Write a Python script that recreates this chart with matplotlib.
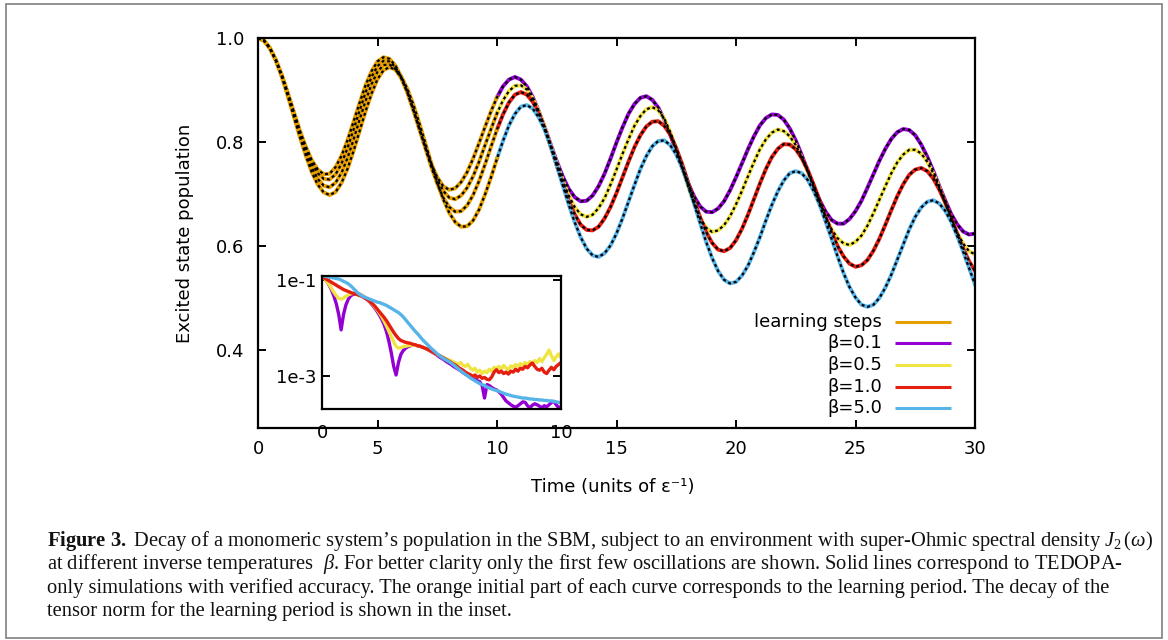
import matplotlib
matplotlib.use('Agg')
import matplotlib.pyplot as plt
import numpy as np
from matplotlib.patches import Rectangle

plt.rcParams['font.family'] = ['DejaVu Sans']
plt.rcParams['mathtext.fontset'] = 'custom'
plt.rcParams['mathtext.rm'] = 'Liberation Serif'
plt.rcParams['mathtext.it'] = 'Liberation Serif:italic'
plt.rcParams['mathtext.bf'] = 'Liberation Serif:bold'

# ---------------- data ----------------
time = np.linspace(0, 30, 121)          # units of 1/epsilon, step 0.25
learning_end = 10.0

pop_b01 = [1.000, 0.995, 0.981, 0.958, 0.928, 0.894, 0.858, 0.822, 0.791, 0.765, 0.747, 0.738,
           0.739, 0.752, 0.774, 0.804, 0.839, 0.875, 0.909, 0.936, 0.955, 0.963, 0.960, 0.947,
           0.924, 0.895, 0.861, 0.825, 0.789, 0.758, 0.732, 0.715, 0.708, 0.711, 0.723, 0.742,
           0.768, 0.798, 0.829, 0.859, 0.886, 0.907, 0.920, 0.925, 0.920, 0.907, 0.886, 0.859,
           0.828, 0.795, 0.763, 0.734, 0.710, 0.694, 0.686, 0.687, 0.697, 0.715, 0.739, 0.768,
           0.799, 0.828, 0.854, 0.873, 0.885, 0.888, 0.881, 0.866, 0.843, 0.814, 0.783, 0.750,
           0.720, 0.695, 0.676, 0.666, 0.665, 0.672, 0.686, 0.707, 0.732, 0.759, 0.786, 0.811,
           0.832, 0.846, 0.853, 0.852, 0.843, 0.826, 0.803, 0.775, 0.745, 0.715, 0.688, 0.666,
           0.650, 0.643, 0.643, 0.652, 0.667, 0.687, 0.712, 0.738, 0.764, 0.787, 0.806, 0.819,
           0.825, 0.823, 0.813, 0.795, 0.772, 0.745, 0.716, 0.688, 0.662, 0.642, 0.628, 0.622,
           0.624]
pop_b05 = [1.000, 0.995, 0.980, 0.957, 0.928, 0.893, 0.856, 0.820, 0.787, 0.759, 0.740, 0.729,
           0.728, 0.738, 0.759, 0.789, 0.824, 0.860, 0.895, 0.925, 0.946, 0.956, 0.955, 0.944,
           0.924, 0.897, 0.863, 0.827, 0.791, 0.757, 0.728, 0.706, 0.693, 0.690, 0.697, 0.712,
           0.734, 0.762, 0.794, 0.825, 0.855, 0.880, 0.898, 0.908, 0.909, 0.901, 0.883, 0.858,
           0.828, 0.793, 0.759, 0.726, 0.697, 0.675, 0.661, 0.656, 0.660, 0.673, 0.692, 0.718,
           0.747, 0.777, 0.805, 0.831, 0.850, 0.863, 0.867, 0.861, 0.845, 0.819, 0.787, 0.751,
           0.714, 0.681, 0.653, 0.635, 0.627, 0.630, 0.640, 0.657, 0.680, 0.706, 0.734, 0.761,
           0.786, 0.805, 0.818, 0.824, 0.821, 0.811, 0.794, 0.770, 0.743, 0.713, 0.683, 0.656,
           0.632, 0.615, 0.605, 0.602, 0.608, 0.620, 0.639, 0.663, 0.689, 0.715, 0.740, 0.761,
           0.776, 0.785, 0.785, 0.778, 0.762, 0.740, 0.713, 0.683, 0.653, 0.626, 0.605, 0.590,
           0.584]
pop_b10 = [1.000, 0.995, 0.980, 0.957, 0.926, 0.891, 0.853, 0.815, 0.780, 0.751, 0.729, 0.716,
           0.713, 0.722, 0.741, 0.770, 0.805, 0.843, 0.879, 0.911, 0.935, 0.948, 0.949, 0.940,
           0.922, 0.896, 0.863, 0.826, 0.789, 0.752, 0.720, 0.693, 0.675, 0.666, 0.667, 0.678,
           0.698, 0.725, 0.757, 0.791, 0.824, 0.853, 0.876, 0.891, 0.896, 0.891, 0.877, 0.854,
           0.825, 0.791, 0.755, 0.720, 0.687, 0.661, 0.641, 0.631, 0.630, 0.637, 0.653, 0.675,
           0.702, 0.732, 0.762, 0.790, 0.813, 0.830, 0.839, 0.840, 0.831, 0.814, 0.788, 0.757,
           0.722, 0.688, 0.655, 0.627, 0.606, 0.593, 0.590, 0.596, 0.611, 0.633, 0.660, 0.690,
           0.720, 0.748, 0.771, 0.787, 0.796, 0.795, 0.786, 0.769, 0.746, 0.718, 0.687, 0.656,
           0.626, 0.600, 0.580, 0.566, 0.560, 0.563, 0.573, 0.591, 0.614, 0.641, 0.669, 0.696,
           0.719, 0.737, 0.747, 0.750, 0.744, 0.730, 0.709, 0.684, 0.655, 0.624, 0.596, 0.571,
           0.552]
pop_b50 = [1.000, 0.995, 0.980, 0.956, 0.925, 0.888, 0.849, 0.810, 0.774, 0.742, 0.718, 0.703,
           0.698, 0.704, 0.722, 0.749, 0.783, 0.821, 0.859, 0.893, 0.921, 0.938, 0.944, 0.939,
           0.925, 0.902, 0.872, 0.836, 0.798, 0.759, 0.722, 0.690, 0.664, 0.646, 0.637, 0.638,
           0.649, 0.670, 0.699, 0.732, 0.768, 0.802, 0.832, 0.854, 0.868, 0.871, 0.864, 0.847,
           0.823, 0.791, 0.755, 0.717, 0.680, 0.646, 0.617, 0.595, 0.582, 0.579, 0.586, 0.601,
           0.624, 0.653, 0.685, 0.717, 0.748, 0.773, 0.792, 0.802, 0.803, 0.794, 0.776, 0.750,
           0.717, 0.681, 0.644, 0.608, 0.577, 0.552, 0.535, 0.528, 0.531, 0.543, 0.562, 0.588,
           0.617, 0.649, 0.679, 0.705, 0.726, 0.740, 0.744, 0.740, 0.727, 0.706, 0.679, 0.647,
           0.614, 0.580, 0.548, 0.521, 0.501, 0.487, 0.483, 0.487, 0.500, 0.520, 0.545, 0.574,
           0.603, 0.632, 0.656, 0.674, 0.685, 0.688, 0.682, 0.668, 0.647, 0.620, 0.590, 0.558,
           0.526]

# inset: tensor norm during learning (log10 of value), t = 0..10 step 0.1
inset_time = np.linspace(0, 10, 101)
norm_log_b01 = [-0.93, -0.97, -1.03, -1.11, -1.21, -1.34, -1.50, -1.72, -2.04, -1.72,
                -1.52, -1.40, -1.33, -1.30, -1.29, -1.29, -1.30, -1.33, -1.37, -1.41,
                -1.46, -1.52, -1.58, -1.65, -1.73, -1.82, -1.93, -2.08, -2.28, -2.52,
                -2.80, -2.98, -2.72, -2.55, -2.47, -2.42, -2.39, -2.37, -2.36, -2.36,
                -2.37, -2.38, -2.40, -2.42, -2.44, -2.47, -2.50, -2.53, -2.56, -2.60,
                -2.63, -2.66, -2.70, -2.73, -2.76, -2.80, -2.83, -2.86, -2.89, -2.93,
                -2.96, -2.99, -3.02, -3.05, -3.07, -3.10, -3.12, -3.20, -3.46, -3.18,
                -3.20, -3.24, -3.27, -3.29, -3.33, -3.38, -3.45, -3.52, -3.56, -3.60,
                -3.63, -3.65, -3.62, -3.58, -3.54, -3.55, -3.62, -3.66, -3.61, -3.58,
                -3.60, -3.63, -3.66, -3.62, -3.64, -3.60, -3.55, -3.53, -3.60, -3.66,
                -3.64]
norm_log_b05 = [-0.93, -0.97, -1.03, -1.10, -1.18, -1.26, -1.33, -1.38, -1.40, -1.38,
                -1.34, -1.31, -1.29, -1.28, -1.28, -1.29, -1.30, -1.33, -1.36, -1.40,
                -1.45, -1.50, -1.56, -1.62, -1.69, -1.77, -1.86, -1.96, -2.07, -2.18,
                -2.29, -2.38, -2.42, -2.41, -2.39, -2.38, -2.37, -2.36, -2.36, -2.36,
                -2.37, -2.38, -2.40, -2.42, -2.44, -2.47, -2.49, -2.52, -2.55, -2.57,
                -2.60, -2.62, -2.64, -2.66, -2.68, -2.71, -2.73, -2.76, -2.72, -2.78,
                -2.80, -2.76, -2.83, -2.88, -2.84, -2.92, -2.88, -2.95, -2.90, -2.93,
                -2.86, -2.90, -2.82, -2.85, -2.80, -2.86, -2.78, -2.83, -2.88, -2.79,
                -2.82, -2.76, -2.80, -2.74, -2.79, -2.72, -2.77, -2.70, -2.75, -2.68,
                -2.72, -2.64, -2.70, -2.62, -2.55, -2.46, -2.58, -2.68, -2.60, -2.54,
                -2.62]
norm_log_b10 = [-0.93, -0.96, -0.99, -1.02, -1.05, -1.08, -1.11, -1.14, -1.17, -1.20,
                -1.22, -1.24, -1.26, -1.28, -1.29, -1.31, -1.33, -1.35, -1.38, -1.41,
                -1.45, -1.49, -1.54, -1.60, -1.66, -1.72, -1.78, -1.85, -1.93, -2.01,
                -2.09, -2.16, -2.22, -2.26, -2.28, -2.30, -2.31, -2.32, -2.34, -2.35,
                -2.37, -2.38, -2.40, -2.42, -2.44, -2.47, -2.49, -2.52, -2.55, -2.57,
                -2.60, -2.63, -2.66, -2.69, -2.72, -2.75, -2.78, -2.82, -2.85, -2.88,
                -2.92, -2.95, -2.97, -3.01, -2.98, -3.03, -3.00, -3.05, -3.03, -3.07,
                -3.08, -3.02, -2.92, -2.87, -2.93, -2.90, -2.95, -2.92, -2.96, -2.90,
                -2.92, -2.86, -2.90, -2.84, -2.86, -2.80, -2.83, -2.77, -2.73, -2.80,
                -2.86, -2.88, -2.84, -2.92, -2.95, -2.88, -2.82, -2.87, -2.80, -2.76,
                -2.72]
norm_log_b50 = [-0.91, -0.92, -0.93, -0.94, -0.95, -0.96, -0.97, -0.98, -1.00, -1.03,
                -1.05, -1.08, -1.12, -1.17, -1.22, -1.27, -1.31, -1.34, -1.36, -1.38,
                -1.40, -1.42, -1.44, -1.46, -1.47, -1.49, -1.51, -1.53, -1.56, -1.59,
                -1.62, -1.65, -1.68, -1.72, -1.77, -1.83, -1.89, -1.95, -2.01, -2.07,
                -2.12, -2.18, -2.24, -2.29, -2.34, -2.39, -2.44, -2.48, -2.53, -2.57,
                -2.61, -2.64, -2.67, -2.70, -2.73, -2.77, -2.81, -2.85, -2.89, -2.93,
                -2.97, -3.00, -3.04, -3.07, -3.10, -3.13, -3.16, -3.18, -3.20, -3.23,
                -3.25, -3.27, -3.29, -3.30, -3.32, -3.34, -3.36, -3.38, -3.39, -3.41,
                -3.42, -3.43, -3.44, -3.45, -3.46, -3.46, -3.47, -3.48, -3.48, -3.49,
                -3.49, -3.50, -3.50, -3.51, -3.51, -3.52, -3.52, -3.53, -3.54, -3.55,
                -3.56]

labels = ['β=0.1', 'β=0.5', 'β=1.0', 'β=5.0']
colors = ['#9400D3', '#F0E442', '#E51E10', '#56B4E9']
learn_color = '#E69F00'
learn_label = 'learning steps'
x_ticks = [0, 5, 10, 15, 20, 25, 30]
y_ticks = [0.4, 0.6, 0.8, 1.0]
inset_yticks = [1e-1, 1e-3]
inset_yticklabels = ['1e-1', '1e-3']
inset_xticks = [0, 10]

caption_lines = [
    r'$\mathbf{Figure\ 3.}$ Decay of a monomeric system’s population in the SBM, subject to an environment with super-Ohmic spectral density $J_2\,(\omega)$',
    r'at different inverse temperatures  $\beta$. For better clarity only the first few oscillations are shown. Solid lines correspond to TEDOPA-',
    r'only simulations with verified accuracy. The orange initial part of each curve corresponds to the learning period. The decay of the',
    r'tensor norm for the learning period is shown in the inset.',
]

# ---------------- figure ----------------
W, H = 1168, 640
fig = plt.figure(figsize=(W / 100, H / 100), dpi=100)

def px_axes(l, t, r, b):
    return [l / W, 1 - b / H, (r - l) / W, (b - t) / H]

ax = fig.add_axes(px_axes(258, 38, 975, 428))
FS = 13

series = [pop_b01, pop_b05, pop_b10, pop_b50]
t_arr = np.asarray(time)
m_learn = t_arr <= learning_end + 1e-9
m_after = t_arr >= learning_end - 1e-9
for vals, c in zip(series, colors):
    v = np.asarray(vals)
    ax.plot(t_arr[m_after], v[m_after], color=c, lw=2.8, zorder=2)
    ax.plot(t_arr[m_learn], v[m_learn], color=learn_color, lw=2.8, zorder=2)
    ax.plot(t_arr, v, color='black', lw=1.6, linestyle=(0, (1.3, 1.3)), zorder=3)

ax.set_xlim(0, 30)
ax.set_ylim(0.25, 1.0)
ax.set_xticks(x_ticks)
ax.set_yticks(y_ticks)
ax.tick_params(direction='in', top=True, right=True, length=5.5, width=1.4,
               labelsize=FS, colors='black')
ax.tick_params(axis='x', pad=9)
ax.tick_params(axis='y', pad=10)
for s in ax.spines.values():
    s.set_linewidth(1.6)

# legend (gnuplot style: text right-aligned, sample to the right)
leg_entries = [(learn_label, learn_color)] + list(zip(labels, colors))
leg_y = [0.2726, 0.2172, 0.1615, 0.1059, 0.0505]
for (lab, c), yy in zip(leg_entries, leg_y):
    ax.text(0.8703, yy, lab, transform=ax.transAxes, ha='right', va='center',
            fontsize=FS, color='black')
    ax.plot([0.8885, 0.9665], [yy, yy], transform=ax.transAxes, color=c, lw=2.2,
            solid_capstyle='butt', zorder=4)

# labels
fig.text(185 / W, 1 - 233 / H, 'Excited state population', rotation=90,
         ha='center', va='center', fontsize=FS)
fig.text(613 / W, 1 - 487 / H, 'Time (units of ε⁻¹)', ha='center', va='center',
         fontsize=FS)

# inset
axi = fig.add_axes(px_axes(322, 276, 561, 409))
axi.set_facecolor('white')
inset_series = [norm_log_b01, norm_log_b05, norm_log_b10, norm_log_b50]
for vals, c in zip(inset_series, colors):
    axi.plot(inset_time, 10.0 ** np.asarray(vals), color=c, lw=2.4)
axi.set_yscale('log')
axi.set_xlim(0, 10)
axi.set_ylim(2.05e-4, 0.121)
axi.yaxis.set_major_locator(matplotlib.ticker.FixedLocator(inset_yticks))
axi.yaxis.set_minor_locator(matplotlib.ticker.NullLocator())
axi.set_yticklabels(inset_yticklabels)
axi.set_xticks(inset_xticks)
axi.tick_params(axis='y', direction='in', left=True, right=True, length=5.5,
                width=1.4, labelsize=FS, pad=4)
axi.tick_params(axis='x', direction='in', length=0, labelsize=FS, pad=11)
for s in axi.spines.values():
    s.set_linewidth(1.6)

# caption
renderer = fig.canvas.get_renderer()
cap_base = [546, 569.3, 592.6, 615.9]
texts = []
for line, yb in zip(caption_lines, cap_base):
    t = fig.text(47 / W, 1 - yb / H, line, fontsize=14, family='Liberation Serif',
                 ha='left', va='baseline', color='#111111')
    texts.append(t)
w1 = texts[0].get_window_extent(renderer).width
fs = 14 * (1155 - 47) / w1
for t in texts:
    t.set_fontsize(fs)

# outer frame
fig.add_artist(Rectangle((6 / W, 1 - 638 / H), (1162 - 6) / W, (638 - 4) / H,
                         transform=fig.transFigure, fill=False, ec='#808080', lw=1.2))

fig.savefig('out.png', dpi=100)
